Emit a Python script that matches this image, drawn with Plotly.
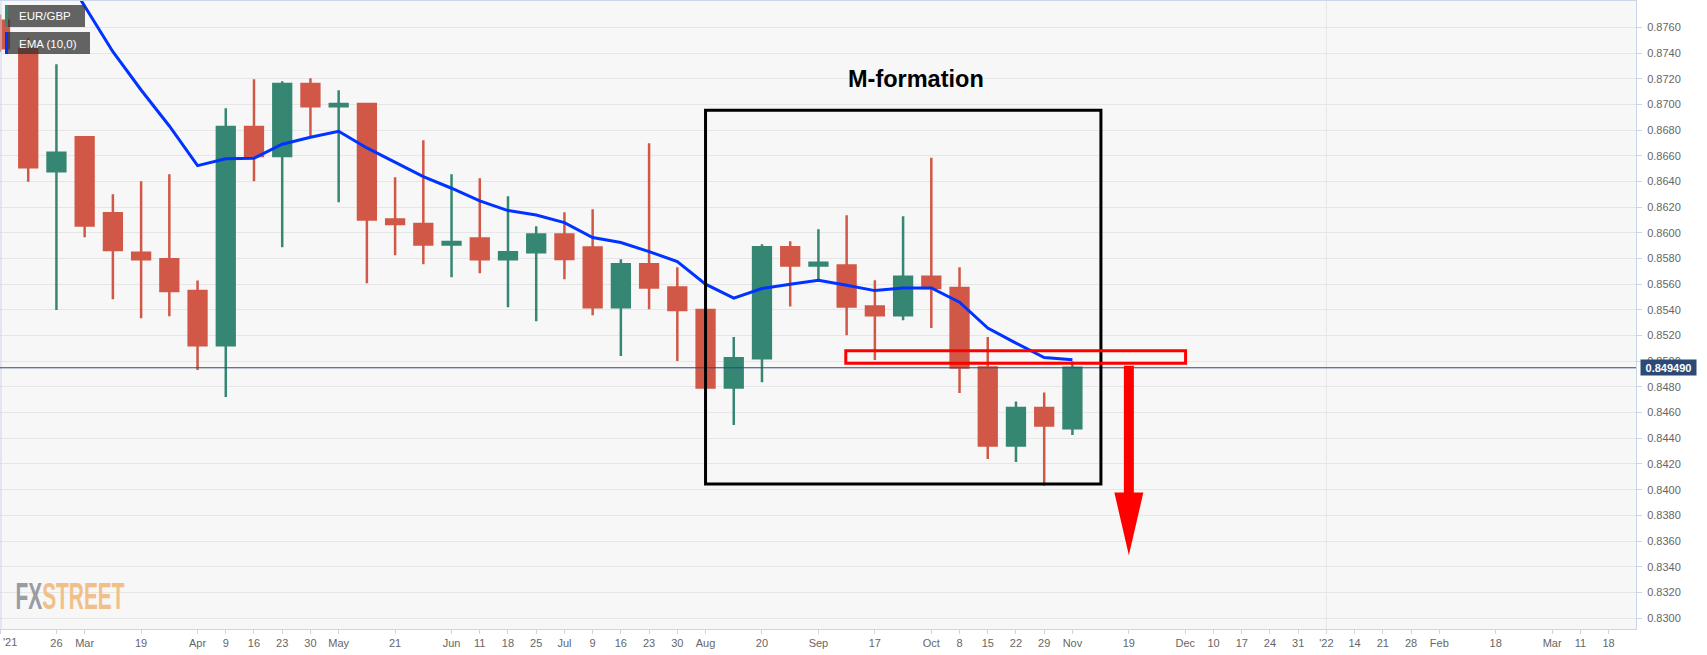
import plotly.graph_objects as go

# ---- weekly candles ----
weeks = list(range(39))
opens = [0.87651, 0.87437, 0.86479, 0.86744, 0.86153, 0.85844, 0.85795, 0.85546, 0.85125, 0.86824,
         0.86598, 0.87159, 0.86985, 0.87003, 0.86103, 0.86069, 0.85908, 0.85955, 0.85795, 0.85849,
         0.85986, 0.85885, 0.85421, 0.85756, 0.85574, 0.85398, 0.84795, 0.85024, 0.85888, 0.85745,
         0.85745, 0.85426, 0.85359, 0.85657, 0.85571, 0.84951, 0.84344, 0.84635, 0.84479]
highs = [0.87700, 0.87514, 0.87312, 0.86744, 0.86300, 0.86402, 0.86456, 0.85628, 0.86970, 0.87195,
         0.87180, 0.87203, 0.87110, 0.87003, 0.86433, 0.86721, 0.86456, 0.86425, 0.86285, 0.86051,
         0.86160, 0.86184, 0.85795, 0.86697, 0.85732, 0.85398, 0.85188, 0.85911, 0.85935, 0.86028,
         0.86137, 0.85631, 0.86129, 0.86585, 0.85732, 0.85188, 0.84686, 0.84756, 0.84998]
lows = [0.87410, 0.86398, 0.85398, 0.85966, 0.85483, 0.85335, 0.85351, 0.84931, 0.84721, 0.86402,
        0.85888, 0.86749, 0.86238, 0.85608, 0.85826, 0.85756, 0.85654, 0.85686, 0.85421, 0.85312,
        0.85639, 0.85359, 0.85040, 0.85405, 0.85001, 0.84795, 0.84503, 0.84837, 0.85426, 0.85631,
        0.85203, 0.85009, 0.85320, 0.85258, 0.84752, 0.84238, 0.84215, 0.84030, 0.84425]
closes = [0.87437, 0.86511, 0.86624, 0.86056, 0.85867, 0.85795, 0.85546, 0.85125, 0.86824, 0.86598,
          0.87159, 0.86985, 0.87003, 0.86103, 0.86069, 0.85908, 0.85929, 0.85795, 0.85849, 0.85986,
          0.85797, 0.85421, 0.85756, 0.85574, 0.85398, 0.84795, 0.85024, 0.85888, 0.85745, 0.85766,
          0.85426, 0.85359, 0.85657, 0.85571, 0.84951, 0.84344, 0.84635, 0.84500, 0.84949]

ema_weeks = list(range(2, 39))
ema = [0.88120, 0.87766, 0.87410, 0.87112, 0.86832, 0.86523, 0.86577, 0.86581, 0.86690, 0.86744,
       0.86791, 0.86661, 0.86546, 0.86437, 0.86347, 0.86248, 0.86173, 0.86139, 0.86079, 0.85963,
       0.85924, 0.85854, 0.85776, 0.85600, 0.85491, 0.85566, 0.85600, 0.85631, 0.85592, 0.85550,
       0.85571, 0.85571, 0.85460, 0.85258, 0.85141, 0.85029, 0.85011]

tick_pos = [0, 2, 3, 5, 7, 8, 9, 10, 11, 12, 14, 16, 17, 18, 19, 20, 21, 22, 23, 24, 25, 27, 29, 31,
            33, 34, 35, 36, 37, 38, 40, 42, 43, 44, 45, 46, 47, 48, 49, 50, 51, 53, 55, 56, 57]
# first label is placed by hand below, a centred one would be cut by the window edge
tick_labels = [" ", "26", "Mar", "19", "Apr", "9", "16", "23", "30", "May", "21", "Jun", "11", "18",
               "25", "Jul", "9", "16", "23", "30", "Aug", "20", "Sep", "17", "Oct", "8", "15", "22",
               "29", "Nov", "19", "Dec", "10", "17", "24", "31", "'22", "14", "21", "28", "Feb", "18",
               "Mar", "11", "18"]
price_ticks = [0.83 + 0.002 * i for i in range(24)]
last_price = 0.84949

GREEN = "#358672"
RED = "#D15847"
W, H = 1707, 655
L, R, T, B = 0, 71, 1, 26


def px(x):
    return (x - L) / (W - L - R)


def py(y):
    return 1 - (y - T) / (H - T - B)


fig = go.Figure()
fig.add_trace(go.Candlestick(
    x=weeks, open=opens, high=highs, low=lows, close=closes,
    increasing=dict(line=dict(color=GREEN, width=2.5), fillcolor=GREEN),
    decreasing=dict(line=dict(color=RED, width=2.5), fillcolor=RED),
    whiskerwidth=0, showlegend=False,
))
fig.add_trace(go.Scatter(x=ema_weeks, y=ema, mode="lines",
                         line=dict(color="#0033FF", width=3), showlegend=False))
# little pointer on the last price label
fig.add_trace(go.Scatter(x=[58.02], y=[last_price], mode="markers", cliponaxis=False,
                         marker=dict(symbol="triangle-left", size=7, color="#2D4A74"),
                         showlegend=False))

shapes = [
    # left edge of the plot
    dict(type="line", xref="paper", yref="paper", x0=px(1), x1=px(1), y0=0, y1=1,
         line=dict(color="#CCD6EB", width=1)),
    # year gridline
    dict(type="line", xref="x", yref="paper", x0=47, x1=47, y0=0, y1=1, layer="below",
         line=dict(color="#E6E6E6", width=1)),
    # last price
    dict(type="line", xref="paper", yref="y", x0=0, x1=1, y0=last_price, y1=last_price,
         line=dict(color="#2D4A74", width=1)),
    # M-formation box
    dict(type="rect", xref="x", yref="y", x0=25.0, x1=39.01, y0=0.84044, y1=0.86954,
         line=dict(color="black", width=3)),
    # resistance box
    dict(type="rect", xref="x", yref="y", x0=29.97, x1=42.01, y0=0.84985, y1=0.85081,
         line=dict(color="#FF0000", width=3)),
    # down arrow
    dict(type="path", xref="x", yref="y", line=dict(width=0), fillcolor="#FF0000",
         path="M 39.823 0.84964 L 40.177 0.84964 L 40.177 0.83978 L 40.514 0.83978 "
              "L 40.0 0.83489 L 39.486 0.83978 L 39.823 0.83978 Z"),
    # legend chips
    dict(type="rect", xref="paper", yref="paper", x0=px(5), x1=px(85), y0=py(27), y1=py(5),
         line=dict(width=0), fillcolor="rgba(50,50,50,0.75)"),
    dict(type="rect", xref="paper", yref="paper", x0=px(5), x1=px(8), y0=py(27), y1=py(5),
         line=dict(width=0), fillcolor=GREEN),
    dict(type="rect", xref="paper", yref="paper", x0=px(5), x1=px(90), y0=py(54), y1=py(32),
         line=dict(width=0), fillcolor="rgba(50,50,50,0.75)"),
    dict(type="rect", xref="paper", yref="paper", x0=px(5), x1=px(8), y0=py(54), y1=py(32),
         line=dict(width=0), fillcolor="#0033FF"),
]

annotations = [
    dict(text="<b>M-formation</b>", xref="x", yref="y", x=32.45, y=0.8720, showarrow=False,
         font=dict(family="Liberation Sans", size=23.5, color="black")),
    dict(text="EUR/GBP", xref="paper", yref="paper", x=px(17), y=py(16.5), xanchor="left", yanchor="middle",
         showarrow=False, font=dict(family="Liberation Sans", size=11.5, color="white")),
    dict(text="EMA (10,0)", xref="paper", yref="paper", x=px(17), y=py(44), xanchor="left", yanchor="middle",
         showarrow=False, font=dict(family="Liberation Sans", size=11.5, color="white")),
    dict(text="<b>0.849490</b>", xref="paper", yref="y", x=1, y=last_price, xanchor="left", xshift=3.5,
         showarrow=False, bgcolor="#2D4A74", width=55, height=15, borderpad=0,
         font=dict(family="Liberation Sans", size=11, color="white")),
    dict(text="<span style='color:#9A9CA3'>FX</span><span style='color:#F0C088'>STREET</span>",
         xref="paper", yref="paper", x=px(70), y=py(596), xanchor="center", yanchor="middle", showarrow=False,
         font=dict(family="Liberation Sans", size=36, weight="bold")),
    dict(text="'21", xref="paper", yref="paper", x=px(1), y=py(642), xanchor="left", yanchor="middle",
         showarrow=False, font=dict(family="Liberation Sans", size=11, color="#666666")),
]

fig.update_layout(
    width=W, height=H,
    margin=dict(l=L, r=R, t=T, b=B, pad=0),
    paper_bgcolor="white",
    plot_bgcolor="#F7F7F7",
    boxgap=0.1,
    shapes=shapes,
    annotations=annotations,
    font=dict(family="Liberation Sans", size=11, color="#666666"),
    xaxis=dict(range=[0, 57.97], tickmode="array", tickvals=tick_pos, ticktext=tick_labels,
               showgrid=False, zeroline=False, rangeslider=dict(visible=False),
               showline=True, linecolor="#CCD6EB", mirror=True, linewidth=1,
               ticks="outside", ticklen=4, tickcolor="#CCD6EB", tickangle=0,
               tickfont=dict(size=11, color="#666666")),
    yaxis=dict(range=[0.82915, 0.87805], side="right", tickmode="array", tickvals=price_ticks,
               tickformat=".4f", showgrid=True, gridcolor="#E6E6E6", gridwidth=1, zeroline=False,
               showline=True, linecolor="#CCD6EB", mirror=True, linewidth=1,
               ticks="outside", ticklen=5, tickcolor="#CCD6EB", ticklabelstandoff=3,
               tickfont=dict(size=11, color="#666666")),
)

# zero the page margin and squeeze the logo text to the width of the original
post = """
document.body.style.margin = '0';
document.querySelectorAll('.annotation-text').forEach(function (t) {
  if (t.textContent === 'FXSTREET') {
    t.setAttribute('textLength', '109');
    t.setAttribute('lengthAdjust', 'spacingAndGlyphs');
  }
});
"""
fig.write_html("out.html", post_script=post, config=dict(displayModeBar=False))
